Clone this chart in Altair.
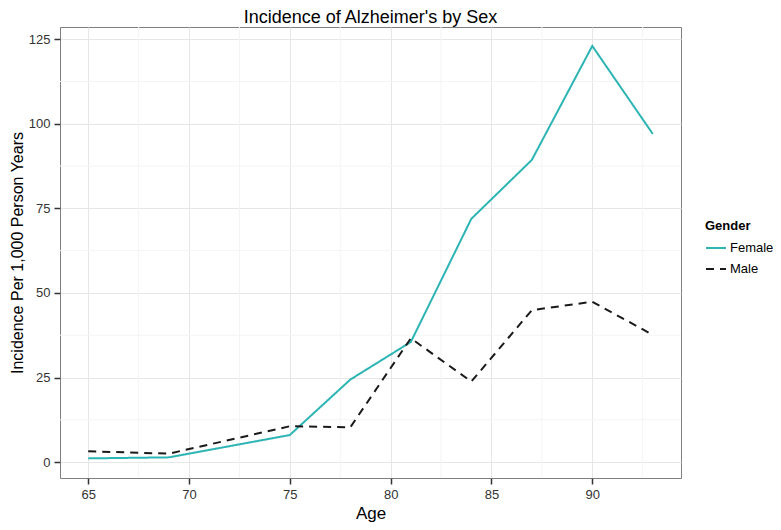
import altair as alt
import pandas as pd

ages = [65, 69, 75, 78, 81, 84, 87, 90, 93]
female = [1.1, 1.4, 8.0, 24.4, 35.5, 71.9, 89.3, 123.0, 97.0]
male = [3.2, 2.5, 10.6, 10.3, 36.6, 23.8, 44.9, 47.4, 37.6]
genders = ["Female", "Male"]
x_ticks = [65, 70, 75, 80, 85, 90]
y_ticks = [0, 25, 50, 75, 100, 125]
x_minor = [67.5, 72.5, 77.5, 82.5, 87.5, 92.5]
y_minor = [12.5, 37.5, 62.5, 87.5, 112.5]

df = pd.DataFrame({
    "Age": ages * 2,
    "Incidence": female + male,
    "Gender": [genders[0]] * len(ages) + [genders[1]] * len(ages),
})
dfx = pd.DataFrame({"v": x_minor})
dfy = pd.DataFrame({"v": y_minor})

FONT = "Liberation Sans"
xscale = alt.Scale(domain=[63.6, 94.4], nice=False, zero=False)
yscale = alt.Scale(domain=[-4.7, 128.6], nice=False, zero=False)
xaxis = alt.Axis(values=x_ticks, title="Age")
yaxis = alt.Axis(values=y_ticks, title="Incidence Per 1,000 Person Years")

minor_x = alt.Chart(dfx).mark_rule(color="#f4f4f4", strokeWidth=1).encode(
    x=alt.X("v:Q", scale=xscale, axis=xaxis)
)
minor_y = alt.Chart(dfy).mark_rule(color="#f4f4f4", strokeWidth=1).encode(
    y=alt.Y("v:Q", scale=yscale, axis=yaxis)
)

lines = alt.Chart(df).mark_line(strokeWidth=2).encode(
    x=alt.X("Age:Q", scale=xscale, axis=xaxis),
    y=alt.Y("Incidence:Q", scale=yscale, axis=yaxis),
    color=alt.Color(
        "Gender:N",
        scale=alt.Scale(domain=genders, range=["#2db4b4", "#1a1a1a"]),
        legend=alt.Legend(
            title="Gender", orient="none", legendX=645, legendY=193,
            symbolType="stroke", symbolSize=400, symbolStrokeWidth=2,
            titleFontSize=13, titleFontWeight="bold", titleFont=FONT,
            titleColor="#000", labelFontSize=13, labelFont=FONT,
            labelColor="#000", rowPadding=3, labelOffset=3, titlePadding=4,
        ),
    ),
    strokeDash=alt.StrokeDash(
        "Gender:N",
        scale=alt.Scale(domain=genders, range=[[1, 0], [8, 6]]),
        legend=None,
    ),
)

chart = alt.layer(minor_x, minor_y, lines).properties(
    width=621,
    height=451,
    autosize=alt.AutoSizeParams(type="none"),
    padding={"left": 52, "top": 19, "right": 92, "bottom": 44},
    title=alt.TitleParams(
        "Incidence of Alzheimer's by Sex", fontSize=18, font=FONT,
        fontWeight="normal", anchor="middle", color="#000", offset=0,
    ),
).configure_view(
    stroke="#7f7f7f", strokeWidth=1
).configure_axis(
    domain=False,
    gridColor="#e6e6e6",
    gridWidth=1,
    tickColor="#333",
    tickSize=6,
    tickWidth=1.5,
    labelFont=FONT,
    labelFontSize=13,
    labelColor="#333",
    labelPadding=4,
    titleFont=FONT,
    titleFontSize=17,
    titleFontWeight="normal",
    titleColor="#000",
).configure_axisX(
    titlePadding=4
).configure_axisY(
    titlePadding=3, titleFontSize=16
)

chart.save("out.html", embed_options={"renderer": "svg", "actions": False})
